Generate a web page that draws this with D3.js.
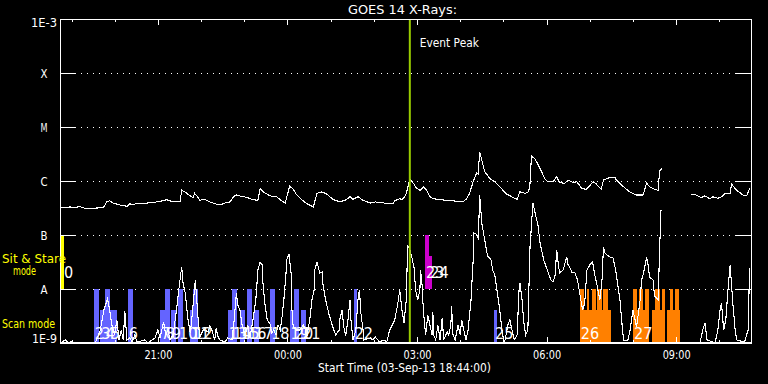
<!DOCTYPE html>
<html><head><meta charset="utf-8">
<script src="https://cdn.jsdelivr.net/npm/d3@7"></script>
<style>body{margin:0;background:#000}svg{display:block}</style>
</head><body><svg id="chart" width="768" height="384"></svg>
<script>
// ---------------- DATA ----------------
const startTime = "2013-09-03T18:44:00Z";
const endTime = "2013-09-04T10:44:00Z";
const titleText = "GOES 14 X-Rays:";
const xTitle = "Start Time (03-Sep-13 18:44:00)";
const eventPeakMin = 486;            // minutes after start
const classNames = ["A", "B", "C", "M", "X"];
const classFlux = [1e-8, 1e-7, 1e-6, 1e-5, 1e-4];
const decadeLabels = ["1E-9", "1E-3"];
const modeNames = ["Sit & Stare", "mode", "Scan mode"];

// long channel (1-8 A): [minutes after start, flux W/m^2]
const longChannel = [[0,3.2e-7],[14,3.3e-7],[21,3.2e-7],[28,3.4e-7],[31,3.2e-7],[37,3.1e-7],[60,3.2e-7],[65,4.1e-7],[69,4.3e-7],[74,3.9e-7],
[83,3.6e-7],[93,3.4e-7],[97,3.8e-7],[101,3.6e-7],[107,3.9e-7],[111,3.8e-7],[121,3.9e-7],[129,4.0e-7],[139,4.2e-7],[148,4.5e-7],
[155,4.2e-7],[167,4.2e-7],[169,6.8e-7],[174,6.2e-7],[181,5.3e-7],[185,4.9e-7],[187,5.9e-7],[191,5.1e-7],[194,4.4e-7],[201,4.6e-7],
[208,4.1e-7],[218,3.7e-7],[222,3.6e-7],[229,3.9e-7],[236,4.1e-7],[241,5.1e-7],[245,5.5e-7],[252,5.2e-7],[259,5.0e-7],[268,4.5e-7],
[275,4.4e-7],[278,7.3e-7],[282,6.3e-7],[292,5.3e-7],[301,5.1e-7],[306,4.5e-7],[313,3.9e-7],[319,8.1e-7],[324,7.0e-7],[329,5.5e-7],
[336,4.5e-7],[343,3.8e-7],[352,3.3e-7],[357,5.9e-7],[363,6.3e-7],[370,5.8e-7],[380,4.5e-7],[389,4.1e-7],[398,4.5e-7],[403,5.2e-7],
[407,4.6e-7],[414,5.1e-7],[421,4.4e-7],[431,3.9e-7],[438,4.1e-7],[444,4.0e-7],[451,3.9e-7],[463,3.9e-7],[465,4.3e-7],[472,4.7e-7],
[475,4.5e-7],[479,5.1e-7],[481,5.9e-7],[486,1.07e-6],[491,9.1e-7],[495,7.4e-7],[500,6.7e-7],[505,7.7e-7],[509,6.8e-7],[514,5.1e-7],
[519,4.7e-7],[528,4.5e-7],[537,4.4e-7],[546,4.3e-7],[560,4.1e-7],[565,4.7e-7],[569,5.9e-7],[574,9.7e-7],[579,1.42e-6],[581,1.35e-6],
[583,3.5e-6],[586,2.45e-6],[590,1.5e-6],[597,1.12e-6],[604,9.7e-7],[611,7.8e-7],[620,5.8e-7],[630,4.9e-7],[635,4.6e-7],[639,6.3e-7],
[646,5.9e-7],[651,6.3e-7],[653,9.1e-7],[655,2.9e-6],[660,2.55e-6],[667,1.7e-6],[674,1.07e-6],[678,9.7e-7],[685,9.7e-7],[690,1.2e-6],
[694,9.3e-7],[701,9.1e-7],[706,1.04e-6],[713,9.3e-7],[718,9.7e-7],[725,7.3e-7],[731,7.0e-7],[741,9.7e-7],[745,8.8e-7],[752,7.0e-7],
[755,1.04e-6],[764,1.17e-6],[771,1.17e-6],[773,1.04e-6],[783,7.8e-7],[792,6.2e-7],[801,5.5e-7],[810,5.5e-7],[815,9.1e-7],[819,7.8e-7],
[826,7.0e-7],[831,6.7e-7],[833,1.52e-6],[836,1.7e-6],[850,null],[877,5.7e-7],[884,5.5e-7],[891,4.9e-7],[896,5.3e-7],[903,4.7e-7],
[907,5.1e-7],[914,4.8e-7],[919,5.1e-7],[924,5.9e-7],[931,5.9e-7],[933,8.8e-7],[940,6.7e-7],[949,5.5e-7],[954,5.3e-7],[958,7.3e-7]];

// short channel (0.5-4 A): [minutes after start, flux W/m^2]
const shortChannel = [[0,1.0e-9],[8,1.14e-9],[11,1.0e-9],[17,1.1e-9],[19,1.0e-9],[29,1.04e-9],[31,1.0e-9],[49,1.0e-9],[56,1.74e-9],[61,4.08e-9],
[66,6.5e-9],[69,4.08e-9],[72,2.15e-9],[76,1.41e-9],[79,2.67e-9],[82,1.14e-9],[85,1.74e-9],[88,1.14e-9],[90,3.9e-9],[93,1.14e-9],
[97,1.24e-9],[100,1.04e-9],[104,1.41e-9],[107,1.04e-9],[118,1.14e-9],[122,1.0e-9],[132,1.24e-9],[136,1.74e-9],[139,1.24e-9],[142,1.9e-9],
[144,2.45e-9],[147,1.41e-9],[150,1.74e-9],[153,1.14e-9],[157,1.41e-9],[161,3.3e-9],[165,9.6e-9],[169,2.56e-8],[171,1.29e-8],[174,8.4e-9],
[176,4.6e-9],[178,2.67e-9],[181,1.53e-9],[183,2.67e-9],[188,1.47e-8],[190,6.25e-9],[192,2.67e-9],[194,1.29e-9],[199,1.74e-9],[201,1.74e-9],
[206,1.6e-9],[208,2.06e-9],[211,1.74e-9],[215,1.14e-9],[217,1.9e-9],[219,1.35e-9],[222,1.14e-9],[229,1.04e-9],[233,1.24e-9],[239,1.14e-9],
[242,2.67e-9],[245,8.4e-9],[247,5.05e-9],[250,4.08e-9],[253,2.15e-9],[257,1.41e-9],[261,2.15e-9],[264,1.24e-9],[268,2.67e-9],[272,6.25e-9],
[275,2.25e-8],[278,3.16e-8],[281,2.78e-8],[282,1.29e-8],[285,4.8e-9],[288,2.67e-9],[292,2.25e-9],[294,1.53e-9],[297,1.74e-9],[300,1.41e-9],
[303,2.15e-9],[306,1.74e-9],[308,2.67e-9],[311,6.25e-9],[314,1.98e-8],[315,3.45e-8],[318,4.45e-8],[321,1.98e-8],[322,4.6e-9],[324,1.98e-9],
[328,1.74e-9],[333,1.74e-9],[338,2.15e-9],[340,1.9e-9],[343,1.35e-9],[347,2.67e-9],[350,6.25e-9],[353,9.6e-9],[354,2.25e-8],[357,3.16e-8],
[361,1.98e-8],[364,2.06e-8],[365,1.29e-8],[369,6.25e-9],[374,3.3e-9],[379,1.98e-9],[383,1.41e-9],[388,1.74e-9],[389,2.9e-9],[392,4.08e-9],
[394,2.06e-9],[397,1.35e-9],[400,2.67e-9],[403,6.25e-9],[404,2.9e-9],[407,1.14e-9],[411,1.74e-9],[414,6.25e-9],[416,9.6e-9],[418,3.6e-9],
[421,1.74e-9],[422,1.14e-9],[431,1.24e-9],[435,1.14e-9],[438,1.29e-9],[444,1.04e-9],[450,1.14e-9],[454,1.04e-9],[458,1.74e-9],[465,2.67e-9],
[469,5.05e-9],[472,9.6e-9],[475,4.08e-9],[478,2.35e-9],[481,6.25e-9],[483,6.5e-8],[486,5.3e-8],[489,3.75e-8],[492,2.45e-8],[494,9.6e-9],
[497,6.25e-9],[500,9.6e-9],[501,2.25e-8],[503,1.19e-8],[504,6.25e-9],[506,2.67e-9],[508,1.41e-9],[511,3.3e-9],[514,2.15e-9],[517,1.41e-9],
[518,3.75e-9],[519,1.41e-9],[522,1.14e-9],[525,2.15e-9],[528,1.14e-9],[531,2.9e-9],[533,1.14e-9],[538,1.6e-9],[540,1.41e-9],[543,2.15e-9],
[544,4.8e-9],[546,1.41e-9],[549,1.14e-9],[553,2.15e-9],[556,1.41e-9],[558,2.67e-9],[561,1.74e-9],[564,1.14e-9],[567,1.74e-9],[571,6.25e-9],
[574,3.45e-8],[575,1.09e-7],[578,1.04e-7],[581,8.8e-8],[582,1.9e-7],[583,5.5e-7],[586,1.67e-7],[590,8.1e-8],[594,4.1e-8],[599,3.45e-8],
[601,2.25e-8],[604,1.82e-8],[607,9.6e-9],[611,4.08e-9],[614,1.74e-9],[617,1.0e-9],[619,1.24e-9],[622,2.15e-9],[625,2.67e-9],[628,1.74e-9],
[631,1.14e-9],[635,1.41e-9],[638,1.14e-8],[639,1.29e-8],[642,6.25e-9],[644,2.67e-9],[647,1.41e-9],[650,1.74e-9],[651,6.25e-9],[653,6.0e-8],
[657,3.9e-7],[660,2.56e-7],[664,1.53e-7],[667,7.1e-8],[672,3.45e-8],[678,2.06e-8],[682,1.47e-8],[685,1.35e-8],[688,1.82e-8],[690,5.3e-8],
[692,3.16e-8],[694,1.98e-8],[699,2.25e-8],[704,3.9e-8],[706,2.78e-8],[708,2.56e-8],[711,2.06e-8],[715,2.06e-8],[719,1.47e-8],[722,8.4e-9],
[726,4.08e-9],[729,5.5e-9],[732,2.25e-8],[736,2.78e-8],[740,3.16e-8],[743,1.82e-8],[746,1.19e-8],[750,6.25e-9],[753,1.47e-8],[755,6.0e-8],
[757,4.65e-8],[760,4.27e-8],[764,3.9e-8],[768,3.9e-8],[772,2.25e-8],[775,1.19e-8],[778,6.25e-9],[780,2.9e-9],[783,1.1e-9],[789,1.14e-9],
[792,1.74e-9],[796,4.08e-9],[799,2.67e-9],[801,1.98e-9],[806,6.25e-9],[808,1.47e-8],[811,2.06e-8],[815,3.9e-8],[817,2.78e-8],[819,1.67e-8],
[824,1.47e-8],[826,7.4e-9],[831,6.25e-9],[833,5.3e-8],[835,2.9e-7],[860,null],[889,1.0e-9],[893,1.74e-9],[896,2.35e-9],[899,1.14e-9],
[910,1.0e-9],[914,1.74e-9],[917,4.08e-9],[919,5.5e-9],[922,1.74e-9],[925,2.67e-9],[928,9.6e-9],[931,2.78e-8],[933,1.19e-8],[935,5.05e-9],
[938,1.74e-9],[940,1.14e-9],[951,1.04e-9],[956,1.74e-9],[958,2.45e-8]];

// observation bars: [start min, end min, top flux, mode, program]
const scanBars = [[47,54,1e-8,"scan","blue"],[56,62,4.1e-9,"scan","blue"],[62,69,1e-8,"scan","blue"],[69,79,4.1e-9,"scan","blue"],[94,101,1e-8,"scan","blue"],
[139,146,4.1e-9,"scan","blue"],[146,153,1e-8,"scan","blue"],[154,161,4.1e-9,"scan","blue"],[164,171,1e-8,"scan","blue"],[181,186,4.1e-9,"scan","blue"],[185,192,1e-8,"scan","blue"],
[233,240,4.1e-9,"scan","blue"],[239,246,1e-8,"scan","blue"],[250,257,4.1e-9,"scan","blue"],[260,267,1e-8,"scan","blue"],[269,276,4.1e-9,"scan","blue"],[292,299,1e-8,"scan","blue"],
[319,325,4.1e-9,"scan","blue"],[325,332,1e-8,"scan","blue"],[335,342,4.1e-9,"scan","blue"],[408,413,1e-8,"scan","blue"],[603,607,4.1e-9,"scan","blue"],
[722,765,4.1e-9,"scan","orange"],[796,818,4.1e-9,"scan","orange"],[822,840,4.1e-9,"scan","orange"],[843,861,4.1e-9,"scan","orange"],
[722,728,1e-8,"scan","orange"],[732,735,1e-8,"scan","orange"],[739,744,1e-8,"scan","orange"],[746,753,1e-8,"scan","orange"],[754,761,1e-8,"scan","orange"],
[796,801,1e-8,"scan","orange"],[804,810,1e-8,"scan","orange"],[813,818,1e-8,"scan","orange"],[826,833,1e-8,"scan","orange"],[836,840,1e-8,"scan","orange"],
[847,851,1e-8,"scan","orange"],[854,860,1e-8,"scan","orange"]];
const sitBars = [[2,5,1e-7,"sit","yellow"],[507,513,1e-7,"sit","magenta"],[513,517,4.1e-8,"sit","magenta"]];

// study labels: [text, start min, mode]
const studyLabels = [["0",4,"sit"],["2",47,"scan"],["3",56,"scan"],["4",62,"scan"],["5",69,"scan"],["6",94,"scan"],
["7",139,"scan"],["8",146,"scan"],["9",154,"scan"],["10",164,"scan"],["11",181,"scan"],["12",185,"scan"],
["13",233,"scan"],["14",239,"scan"],["15",250,"scan"],["16",260,"scan"],["17",269,"scan"],["18",292,"scan"],
["19",319,"scan"],["20",325,"scan"],["21",335,"scan"],["22",408,"scan"],["23",507,"sit"],["24",513,"sit"],
["25",603,"scan"],["26",722,"scan"],["27",796,"scan"]];

// ---------------- STYLE ----------------
const colors = {blue:"#6464ff", orange:"#ff8000", magenta:"#cc00cc", yellow:"#ffff00", event:"#99cc00"};
const bandBottom = {scan:1e-9, sit:1e-8};
const labelFlux = {scan:1.19e-9, sit:1.63e-8};
const FONT = "'DejaVu Sans', sans-serif";

const svg = d3.select("#chart");
svg.append("rect").attr("width",768).attr("height",384).attr("fill","#000");

const t0 = new Date(startTime), t1 = new Date(endTime);
const tm = m => new Date(t0.getTime() + m*60000);
const x = d3.scaleUtc().domain([t0, t1]).range([60, 751]);
const y = d3.scaleLog().domain([1e-9, 1e-3]).range([343, 19]);

function txt(str, px, py, size, width, anchor, fill){
  const t = svg.append("text").attr("x",px).attr("y",py).attr("font-family",FONT)
    .attr("font-size",size).attr("fill",fill||"#fff").attr("text-anchor",anchor||"start").text(str);
  if (width) t.attr("textLength",width).attr("lengthAdjust","spacingAndGlyphs");
  return t;
}

// gridlines (dotted)
svg.append("g").selectAll("line").data(classFlux).join("line")
  .attr("x1",75).attr("x2",736).attr("y1",d=>Math.round(y(d))+0.5).attr("y2",d=>Math.round(y(d))+0.5)
  .attr("stroke","#fff").attr("stroke-width",1).attr("stroke-dasharray","1,5");

// bars
const bars = scanBars.concat(sitBars);
svg.append("g").attr("shape-rendering","crispEdges").selectAll("rect").data(bars).join("rect")
  .attr("x", d=>x(tm(d[0]))).attr("width", d=>Math.max(1, x(tm(d[1]))-x(tm(d[0]))))
  .attr("y", d=>y(d[2])).attr("height", d=>y(bandBottom[d[3]])-y(d[2]))
  .attr("fill", d=>colors[d[4]]);

// curves
const line = d3.line().defined(d=>d[1]!=null).x(d=>x(tm(d[0]))).y(d=>y(Math.max(d[1],1e-9)));
svg.append("path").datum(shortChannel).attr("d",line).attr("fill","none").attr("stroke","#fff")
  .attr("stroke-width",1.1).attr("shape-rendering","crispEdges");
svg.append("path").datum(longChannel).attr("d",line).attr("fill","none").attr("stroke","#fff")
  .attr("stroke-width",1.1).attr("shape-rendering","crispEdges");

// study labels
svg.append("g").selectAll("text").data(studyLabels).join("text")
  .attr("x", d=>x(tm(d[1]))+1).attr("y", d=>y(labelFlux[d[2]]))
  .attr("font-family",FONT).attr("font-size",16).attr("fill","#fff")
  .attr("textLength", d=>d[0].length*9.2).attr("lengthAdjust","spacingAndGlyphs")
  .text(d=>d[0]);

// event peak line
svg.append("line").attr("x1",x(tm(eventPeakMin))).attr("x2",x(tm(eventPeakMin)))
  .attr("y1",19).attr("y2",343).attr("stroke",colors.event).attr("stroke-width",2);
txt("Event Peak", x(tm(eventPeakMin))+10, 47, 12, 59);

// axes
const gAx = svg.append("g").attr("shape-rendering","crispEdges");
const minorTicks = x.ticks(d3.utcHour.every(1));
const majorTicks = x.ticks(d3.utcHour.every(3));
gAx.append("g").attr("transform","translate(0,19)")
  .call(d3.axisTop(x).tickValues(minorTicks).tickSize(-3).tickFormat(""));
gAx.append("g").attr("transform","translate(0,19)")
  .call(d3.axisTop(x).tickValues(majorTicks).tickSize(-6).tickFormat(""));
gAx.append("g").attr("transform","translate(0,343)")
  .call(d3.axisBottom(x).tickValues(minorTicks).tickSize(-3).tickFormat(""));
const bAx = gAx.append("g").attr("transform","translate(0,343)")
  .call(d3.axisBottom(x).tickValues(majorTicks).tickSize(-6).tickPadding(7.5).tickFormat(d3.utcFormat("%H:%M")));
bAx.selectAll("text").attr("font-family",FONT).attr("font-size",12).attr("fill","#fff")
  .attr("textLength",28).attr("lengthAdjust","spacingAndGlyphs");
gAx.append("g").attr("transform","translate(60,0)")
  .call(d3.axisLeft(y).tickValues(classFlux).tickSize(-15).tickFormat(""));
gAx.append("g").attr("transform","translate(751,0)")
  .call(d3.axisRight(y).tickValues(classFlux).tickSize(-15).tickFormat(""));
gAx.selectAll(".domain").remove();
gAx.selectAll(".tick line").attr("stroke","#fff");
// frame
gAx.append("rect").attr("x",60.5).attr("y",19.5).attr("width",691).attr("height",323.5)
  .attr("fill","none").attr("stroke","#fff").attr("stroke-width",1);
gAx.append("line").attr("x1",60).attr("x2",752).attr("y1",343).attr("y2",343).attr("stroke","#fff").attr("stroke-width",2);

// y labels
classNames.forEach((n,i)=>txt(n, 44, y(classFlux[i])+4.5, 12, 7, "middle"));
txt(decadeLabels[1], 57, 27, 12, 26, "end");
txt(decadeLabels[0], 57, 343, 12, 25, "end");

// mode labels
txt(modeNames[0], 2, 263, 12, 64, "start", colors.yellow);
txt(modeNames[1], 13, 275, 12, 23, "start", colors.yellow);
txt(modeNames[2], 2, 328, 12, 53, "start", colors.yellow);

// titles
txt(titleText, 348, 14, 12, 109);
txt(xTitle, 318, 372, 12, 173);
</script></body></html>
